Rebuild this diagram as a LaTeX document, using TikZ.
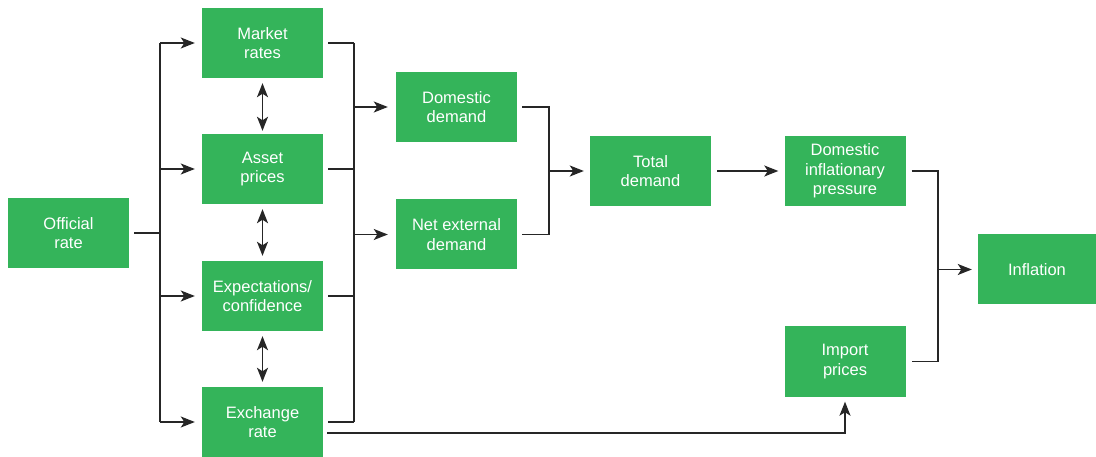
\documentclass[tikz,border=0pt]{standalone}
\usepackage{fontspec}
\setmainfont{Liberation Sans}
\usetikzlibrary{arrows.meta}
\definecolor{boxgreen}{HTML}{34B45A}
\definecolor{linegray}{HTML}{262626}
\tikzset{
  box/.style={fill=boxgreen, draw=none, text=white, align=center, minimum width=121pt, minimum height=70pt, inner sep=0pt, font=\fontsize{16.5}{19.5}\selectfont},
  conn/.style={draw=linegray, line width=1.5pt},
  arr/.style={conn, -{Stealth[length=14pt,width=11pt,inset=3.5pt]}},
  darr/.style={conn, {Stealth[length=14pt,width=11pt,inset=3.5pt]}-{Stealth[length=14pt,width=11pt,inset=3.5pt]}}
}
\begin{document}
\begin{tikzpicture}[x=1pt,y=-1pt]
\useasboundingbox (0,0) rectangle (1096,457);
\node[box] (off) at (68.5,233) {Official\\rate};
\node[box] (mr) at (262.5,43) {Market\\rates};
\node[box] (ap) at (262.5,169) {Asset\\prices};
\node[box] (ec) at (262.5,296) {Expectations/\\confidence};
\node[box] (ex) at (262.5,422) {Exchange\\rate};
\node[box] (dd) at (456.5,107) {Domestic\\demand};
\node[box] (ne) at (456.5,234.5) {Net external\\demand};
\node[box] (td) at (650.5,171) {Total\\demand};
\node[box] (dp) at (845,171) {Domestic\\inflationary\\pressure};
\node[box] (ip) at (845,361.5) {Import\\prices};
\node[box, minimum width=118pt] (inf) at (1037,269.5) {Inflation};

% left bus
\coordinate (bl) at (160,233);
\draw[conn] ([xshift=5pt]off.east) -- (bl);
\draw[conn] (bl |- mr.center) -- (bl |- ex.center);
\foreach \n in {mr,ap,ec,ex}{
  \draw[arr] (bl |- \n.center) -- ([xshift=-7pt]\n.west);
}
% double arrows
\draw[darr] ([yshift=-5pt]mr.south) -- ([yshift=3pt]ap.north);
\draw[darr] ([yshift=-5pt]ap.south) -- ([yshift=5pt]ec.north);
\draw[darr] ([yshift=-5pt]ec.south) -- ([yshift=5pt]ex.north);
% right bus
\coordinate (br) at (354,233);
\foreach \n in {mr,ap,ec,ex}{
  \draw[conn] ([xshift=5pt]\n.east) -- (br |- \n.center);
}
\draw[conn] (br |- mr.center) -- (br |- ex.center);
\draw[arr] (br |- dd.center) -- ([xshift=-8pt]dd.west);
\draw[arr] (br |- ne.center) -- ([xshift=-8pt]ne.west);
% demand bus
\coordinate (bd) at (549,171);
\draw[conn] ([xshift=5pt]dd.east) -- (bd |- dd.center) -- (bd |- ne.center) -- ([xshift=5pt]ne.east);
\draw[arr] (bd |- td.center) -- ([xshift=-6pt]td.west);
% total -> domestic pressure
\draw[arr] ([xshift=6pt]td.east) -- ([xshift=-6pt]dp.west);
% inflation bus
\coordinate (bi) at (938,269.5);
\draw[conn] ([xshift=6pt]dp.east) -- (bi |- dp.center) -- (bi |- ip.center) -- ([xshift=6pt]ip.east);
\draw[arr] (bi) -- ([xshift=-6pt]inf.west);
% exchange -> import
\coordinate (exl) at (327,433);
\draw[arr] (exl) -- (ip.south |- exl) -- ([yshift=-5pt]ip.south);
\end{tikzpicture}
\end{document}
